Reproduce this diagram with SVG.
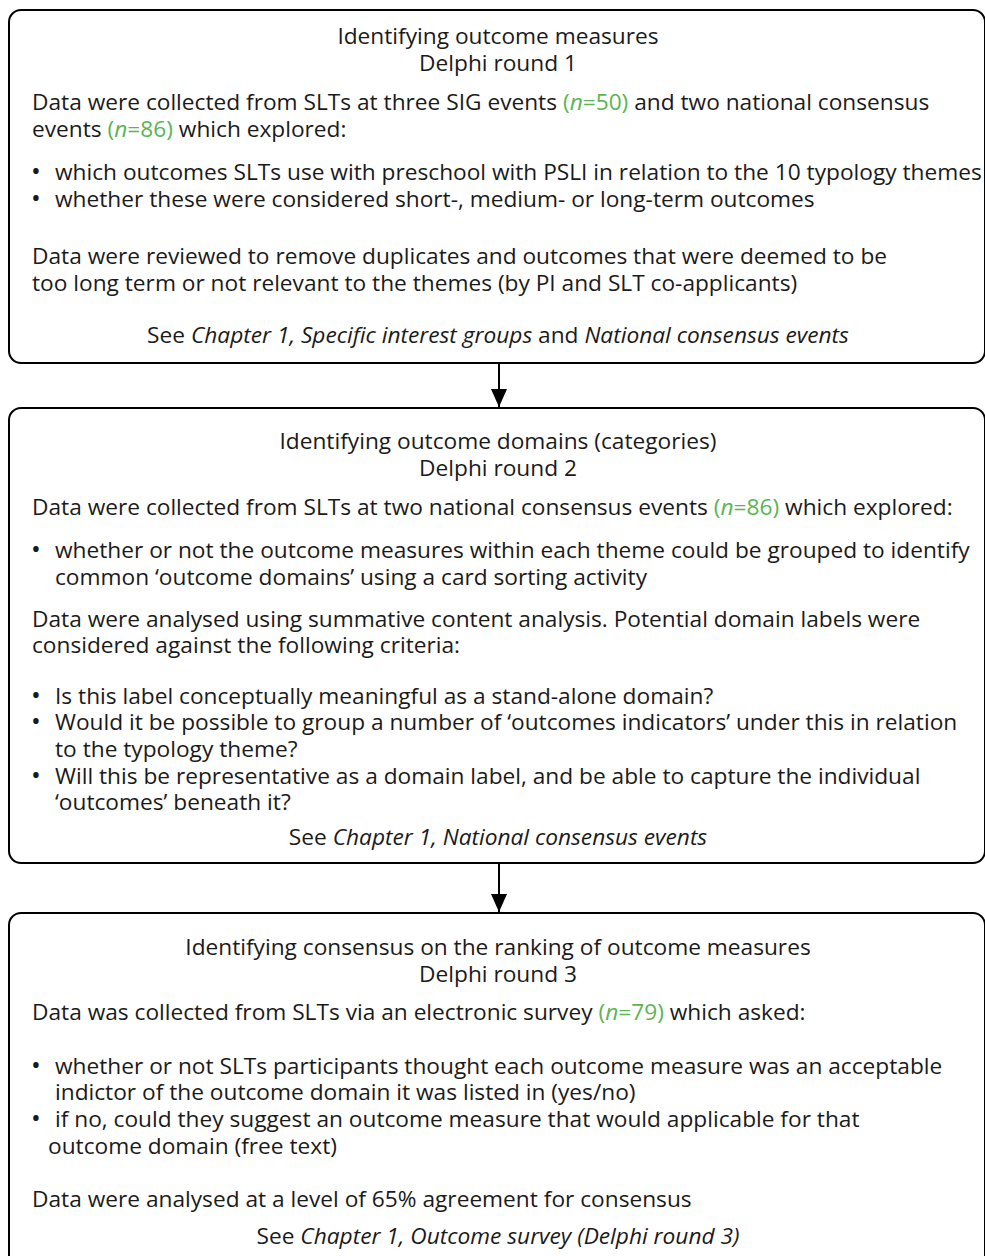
<svg xmlns="http://www.w3.org/2000/svg" width="985" height="1256" viewBox="0 0 985 1256">
<style>
.box{fill:#fff;stroke:#000;stroke-width:2}
text{font-family:"Open Sans","Noto Sans","Liberation Sans",sans-serif;font-size:22.7px;fill:#1a1a1a}
.c{text-anchor:middle}
.b{font-size:26px}
.g{fill:#5ab552}
.i{font-style:italic}
.conn line{stroke:#000;stroke-width:2}
</style>
<defs>
<marker id="ah" markerWidth="18" markerHeight="16" refX="18" refY="8" orient="auto" markerUnits="userSpaceOnUse" viewBox="0 0 18 16">
<path d="M0,0 L18,8 L0,16 Z" fill="#000"/>
</marker>
</defs>
<rect width="985" height="1256" fill="#fff"/>
<g id="node1">
<rect class="box" x="9" y="10" width="976" height="353" rx="12"/>
<text class="c" x="498" y="44">Identifying outcome measures</text>
<text class="c" x="498" y="71">Delphi round 1</text>
<text x="32" y="110">Data were collected from SLTs at three SIG events <tspan class="g">(<tspan class="i">n</tspan>=50)</tspan> and two national consensus</text>
<text x="32" y="137">events <tspan class="g">(<tspan class="i">n</tspan>=86)</tspan> which explored:</text>
<text x="31" y="180"><tspan class="b">•</tspan><tspan x="55">which outcomes SLTs use with preschool with PSLI in relation to the 10 typology themes</tspan></text>
<text x="31" y="207"><tspan class="b">•</tspan><tspan x="55">whether these were considered short-, medium- or long-term outcomes</tspan></text>
<text x="32" y="264">Data were reviewed to remove duplicates and outcomes that were deemed to be</text>
<text x="32" y="291">too long term or not relevant to the themes (by PI and SLT co-applicants)</text>
<text class="c" x="498" y="343">See <tspan class="i">Chapter 1, Specific interest groups</tspan> and <tspan class="i">National consensus events</tspan></text>
</g>
<g id="node2">
<rect class="box" x="9" y="408" width="976" height="455" rx="12"/>
<text class="c" x="498" y="449">Identifying outcome domains (categories)</text>
<text class="c" x="498" y="476">Delphi round 2</text>
<text x="32" y="515">Data were collected from SLTs at two national consensus events <tspan class="g">(<tspan class="i">n</tspan>=86)</tspan> which explored:</text>
<text x="31" y="558"><tspan class="b">•</tspan><tspan x="55">whether or not the outcome measures within each theme could be grouped to identify</tspan></text>
<text x="55" y="585">common ‘outcome domains’ using a card sorting activity</text>
<text x="32" y="627">Data were analysed using summative content analysis. Potential domain labels were</text>
<text x="32" y="653">considered against the following criteria:</text>
<text x="31" y="704"><tspan class="b">•</tspan><tspan x="55">Is this label conceptually meaningful as a stand-alone domain?</tspan></text>
<text x="31" y="730"><tspan class="b">•</tspan><tspan x="55">Would it be possible to group a number of ‘outcomes indicators’ under this in relation</tspan></text>
<text x="55" y="757">to the typology theme?</text>
<text x="31" y="784"><tspan class="b">•</tspan><tspan x="55">Will this be representative as a domain label, and be able to capture the individual</tspan></text>
<text x="55" y="810">‘outcomes’ beneath it?</text>
<text class="c" x="498" y="845">See <tspan class="i">Chapter 1, National consensus events</tspan></text>
</g>
<g id="node3">
<rect class="box" x="9" y="913" width="976" height="400" rx="12"/>
<text class="c" x="498" y="955">Identifying consensus on the ranking of outcome measures</text>
<text class="c" x="498" y="982">Delphi round 3</text>
<text x="32" y="1020">Data was collected from SLTs via an electronic survey <tspan class="g">(<tspan class="i">n</tspan>=79)</tspan> which asked:</text>
<text x="31" y="1074"><tspan class="b">•</tspan><tspan x="55">whether or not SLTs participants thought each outcome measure was an acceptable</tspan></text>
<text x="55" y="1100">indictor of the outcome domain it was listed in (yes/no)</text>
<text x="31" y="1127"><tspan class="b">•</tspan><tspan x="55">if no, could they suggest an outcome measure that would applicable for that</tspan></text>
<text x="48" y="1154">outcome domain (free text)</text>
<text x="32" y="1207">Data were analysed at a level of 65% agreement for consensus</text>
<text class="c" x="498" y="1244">See <tspan class="i">Chapter 1, Outcome survey (Delphi round 3)</tspan></text>
</g>
<g id="connectors" class="conn">
<line x1="499" y1="364" x2="499" y2="407" marker-end="url(#ah)"/>
<line x1="499" y1="864" x2="499" y2="912" marker-end="url(#ah)"/>
</g>
</svg>
